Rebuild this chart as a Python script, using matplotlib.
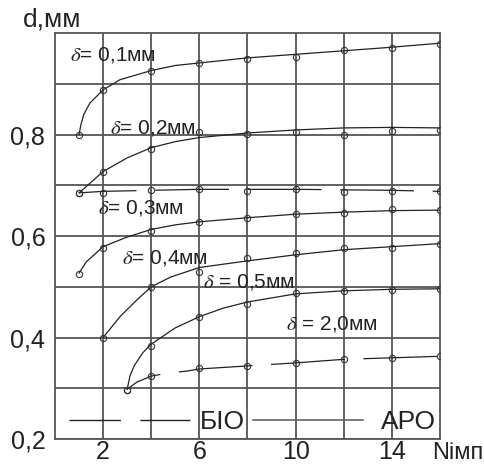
import matplotlib
matplotlib.use('Agg')
import matplotlib.pyplot as plt
from matplotlib.lines import Line2D

plt.rcParams['font.family'] = ['Liberation Sans', 'DejaVu Sans']
plt.rcParams['mathtext.fontset'] = 'stix'

# measured points (open circles)
x_pts = [1, 2, 4, 6, 8, 10, 12, 14, 16]
d01_pts = [0.800, 0.888, 0.926, 0.941, 0.949, 0.953, 0.967, 0.971, 0.979]
d02_pts = [0.685, 0.727, 0.772, 0.804, 0.801, 0.804, 0.800, 0.806, 0.809]
bio_hi_pts = [0.685, 0.685, 0.691, 0.693, 0.689, 0.693, 0.687, 0.689, 0.689]
d03_pts = [0.525, 0.577, 0.609, 0.628, 0.636, 0.644, 0.645, 0.654, 0.652]
x04_pts = [2, 4, 6, 8, 10, 12, 14, 16]
d04_pts = [0.400, 0.500, 0.530, 0.557, 0.567, 0.576, 0.576, 0.585]
x05_pts = [3, 4, 6, 8, 10, 12, 14, 16]
d05_pts = [0.297, 0.383, 0.441, 0.466, 0.488, 0.492, 0.494, 0.496]
d20_pts = [0.297, 0.324, 0.340, 0.344, 0.350, 0.358, 0.360, 0.364]

# smoothed curves as drawn in the picture
d01_x = [1, 1.08, 1.2, 1.45, 2, 2.7, 4, 5, 6, 8, 10, 12, 14, 16]
d01_y = [0.800, 0.820, 0.840, 0.862, 0.888, 0.908, 0.926, 0.936, 0.941, 0.951, 0.958, 0.965, 0.972, 0.980]
d02_x = [1, 2, 3, 4, 5, 6, 8, 10, 12, 14, 16]
d02_y = [0.685, 0.727, 0.754, 0.774, 0.786, 0.794, 0.803, 0.809, 0.813, 0.814, 0.813]
bio_hi_x = [1, 2, 4, 6, 8, 10, 12, 14, 16]
bio_hi_y = [0.685, 0.688, 0.690, 0.692, 0.692, 0.692, 0.691, 0.690, 0.688]
d03_x = [1, 1.3, 2, 3, 4, 5, 6, 8, 10, 12, 14, 16]
d03_y = [0.527, 0.549, 0.579, 0.598, 0.613, 0.622, 0.628, 0.636, 0.643, 0.647, 0.650, 0.651]
d04_x = [2, 2.7, 3.4, 4, 4.8, 6, 8, 10, 12, 14, 16]
d04_y = [0.400, 0.441, 0.474, 0.500, 0.519, 0.538, 0.551, 0.563, 0.573, 0.579, 0.585]
d05_x = [3, 3.12, 3.3, 3.65, 4, 5, 6, 7, 8, 10, 12, 14, 16]
d05_y = [0.298, 0.325, 0.345, 0.370, 0.387, 0.419, 0.441, 0.458, 0.470, 0.486, 0.492, 0.495, 0.496]
d20_x = [3, 3.4, 4, 4.7, 5.5, 6, 8, 10, 12, 14, 16]
d20_y = [0.298, 0.312, 0.324, 0.330, 0.334, 0.338, 0.344, 0.350, 0.357, 0.360, 0.363]

# curve labels: text, x, y
labels = [
    (r'$\delta$= 0,1мм', 0.62, 0.957),
    (r'$\delta$= 0,2мм', 2.29, 0.813),
    (r'$\delta$= 0,3мм', 1.79, 0.656),
    (r'$\delta$= 0,4мм', 2.79, 0.557),
    (r'$\delta$ = 0,5мм', 6.17, 0.510),
    (r'$\delta$ = 2,0мм', 9.58, 0.427),
]

xticks = [2, 4, 6, 8, 10, 12, 14]
xtick_labels = ['2', '', '6', '', '10', '', '14']
yticks = [0.2, 0.3, 0.4, 0.5, 0.6, 0.7, 0.8, 0.9]
ytick_labels = ['0,2', '', '0,4', '', '0,6', '', '0,8', '']

fig = plt.figure(figsize=(4.85, 4.65), dpi=100)
ax = fig.add_axes([0.1134, 0.0559, 0.7938, 0.8731])

grid_c = '#555555'
line_c = '#222222'
text_c = '#222222'
ax.set_xlim(0, 16)
ax.set_ylim(0.2, 1.0)
ax.set_xticks(xticks)
ax.set_xticklabels(xtick_labels)
ax.set_yticks(yticks)
ax.set_yticklabels(ytick_labels)
ax.tick_params(length=0, labelsize=18, colors=text_c)
ax.tick_params(axis='x', pad=0.5)
ax.tick_params(axis='y', pad=7)
ax.grid(True, color=grid_c, lw=1.3)
for s in ax.spines.values():
    s.set_color(grid_c)
    s.set_linewidth(1.3)

# solid curves (АРО)
for xs, ys in [(d01_x, d01_y), (d02_x, d02_y), (d03_x, d03_y),
               (d04_x, d04_y), (d05_x, d05_y)]:
    ax.plot(xs, ys, color=line_c, lw=0.9, zorder=3)

# dashed curves (БІО)
ax.plot(bio_hi_x, bio_hi_y, color=line_c, lw=0.9, zorder=3,
        linestyle=(13, (59, 15)))
ax.plot(d20_x, d20_y, color=line_c, lw=0.9, zorder=3,
        linestyle=(29.5, (59, 15)))

mk = dict(marker='o', ls='none', ms=4.5, mfc='none', mec='#333333', mew=0.8, zorder=4)
ax.plot(x_pts, d01_pts, **mk)
ax.plot(x_pts, d02_pts, **mk)
ax.plot(x_pts, bio_hi_pts, **mk)
ax.plot(x_pts, d03_pts, **mk)
ax.plot(x04_pts, d04_pts, **mk)
ax.plot(x05_pts, d05_pts, **mk)
ax.plot(x05_pts, d20_pts, **mk)

for txt, tx, ty in labels:
    ax.text(tx, ty, txt, fontsize=15, color=text_c, va='center', ha='left', zorder=5)

# two legend entries placed separately
leg_kw = dict(loc='center left', frameon=False, fontsize=19, borderpad=0,
              borderaxespad=0, labelcolor=text_c)
h_bio = Line2D([], [], color=line_c, lw=1, linestyle=(0, (37, 14)))
h_aro = Line2D([], [], color='#666666', lw=1.2)
leg1 = ax.legend([h_bio], ['БІО'], bbox_to_anchor=(0.036, 0.042),
                 handlelength=121 / 26.4, handletextpad=0.38, **leg_kw)
ax.add_artist(leg1)
ax.legend([h_aro], ['АРО'], bbox_to_anchor=(0.514, 0.042),
          handlelength=110 / 26.4, handletextpad=0.7, **leg_kw)

# axis captions
fig.text(0.047, 0.957, 'd,мм', fontsize=19, color=text_c, va='center', ha='left')
fig.text(0.997, 0.049, 'Nімп', fontsize=17, color=text_c, va='top', ha='right')

fig.savefig('out.png', dpi=100)
